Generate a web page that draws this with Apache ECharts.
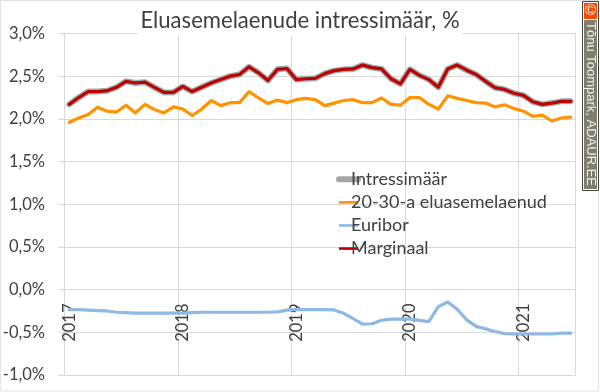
<!DOCTYPE html>
<html><head><meta charset="utf-8">
<style>html,body{margin:0;padding:0;background:#fff}#c{width:600px;height:392px}</style>
<script src="https://cdn.jsdelivr.net/npm/echarts@6/dist/echarts.min.js"></script>
</head><body><div id="c"></div>
<script>
const tickYears = ['2017','2018','2019','2020','2021'];
const pointCount = 54;
const categories = [];
for (let y = 2017, n = 0; n < pointCount; y++) {
  for (let m = 1; m <= 12 && n < pointCount; m++, n++) {
    categories.push(y + '-' + String(m).padStart(2, '0'));
  }
}
const marginaal = [2.17,2.25,2.32,2.32,2.33,2.37,2.44,2.42,2.43,2.37,2.31,2.31,2.38,2.32,2.37,2.42,2.46,2.50,
  2.52,2.61,2.54,2.45,2.58,2.59,2.46,2.47,2.475,2.53,2.565,2.58,2.585,2.63,2.60,2.585,2.47,2.41,
  2.58,2.51,2.46,2.37,2.585,2.63,2.57,2.52,2.44,2.365,2.345,2.30,2.275,2.20,2.17,2.185,2.205,2.205];
const intressimaar = marginaal.slice();
const eluasemelaenud = [1.96,2.01,2.05,2.135,2.09,2.08,2.16,2.07,2.17,2.11,2.07,2.14,2.115,2.04,2.115,2.215,2.155,2.19,
  2.19,2.32,2.245,2.18,2.22,2.19,2.225,2.24,2.225,2.155,2.185,2.215,2.225,2.19,2.19,2.245,2.17,2.16,
  2.25,2.25,2.17,2.115,2.27,2.24,2.215,2.19,2.185,2.14,2.165,2.12,2.09,2.03,2.045,1.975,2.01,2.02];
const euribor = [-0.235,-0.235,-0.24,-0.245,-0.25,-0.265,-0.27,-0.275,-0.275,-0.275,-0.275,-0.275,-0.275,-0.27,-0.265,-0.265,-0.265,-0.265,
  -0.265,-0.265,-0.265,-0.265,-0.26,-0.24,-0.235,-0.235,-0.235,-0.235,-0.238,-0.277,-0.34,-0.405,-0.40,-0.36,-0.345,-0.345,
  -0.345,-0.36,-0.375,-0.20,-0.145,-0.23,-0.355,-0.43,-0.46,-0.49,-0.515,-0.52,-0.52,-0.52,-0.52,-0.52,-0.51,-0.51];
const titleText = 'Eluasemelaenude intressimäär, %';
const creditText = 'Tõnu Toompark, ADAUR.EE';
const font = 'Lato, Carlito, Calibri, sans-serif';
const ink = '#404040', gridC = '#D9D9D9';

const chart = echarts.init(document.getElementById('c'), null, {renderer:'canvas'});
const line = (name, data, color, width, z) => ({
  name, type:'line', data, showSymbol:false, symbol:'none', smooth:false, z,
  lineStyle:{color, width, cap:'round', join:'round'}, itemStyle:{color}, animation:false
});
const isYear = i => i % 12 === 0;
chart.setOption({
  animation:false,
  backgroundColor:'#fff',
  title:{text:titleText, left:'center', top:7, padding:[3,3,4,3], backgroundColor:'#fff',
    textStyle:{fontFamily:font, fontSize:22.1, fontWeight:'normal', color:ink}},
  legend:{left:331, top:165, orient:'vertical', itemWidth:19, itemHeight:2, itemGap:4.6,
    selectedMode:false,
    textStyle:{fontFamily:font, fontSize:18, color:ink, lineHeight:18.5, padding:[0,0,0,-12]},
    data:[
      {name:'Intressimäär', lineStyle:{width:6, cap:'round', color:'#A6A6A6'}},
      {name:'20-30-a eluasemelaenud', lineStyle:{width:2.6, cap:'butt'}},
      {name:'Euribor', lineStyle:{width:2.6, cap:'butt'}},
      {name:'Marginaal', lineStyle:{width:2.6, cap:'butt'}}
    ]},
  grid:{left:64.5, right:24.5, top:33.5, bottom:17, containLabel:false, outerBoundsMode:'none'},
  xAxis:{type:'category', data:categories, boundaryGap:true, offset:-85.5,
    axisLine:{show:false, onZero:false}, axisTick:{show:false},
    axisLabel:{interval:(i)=>isYear(i), rotate:90, margin:14, fontFamily:font, fontSize:16.5, color:ink,
      formatter:(v)=>tickYears.find(y=>v.startsWith(y))},
    splitLine:{show:true, interval:(i)=>isYear(i), lineStyle:{color:gridC, width:1}}},
  yAxis:{type:'value', min:-1, max:3, interval:0.5,
    axisLine:{show:false}, axisTick:{show:true, length:6.5, lineStyle:{color:gridC}},
    axisLabel:{margin:19.5, fontFamily:font, fontSize:16.5, color:ink,
      formatter:(v)=>v.toFixed(1).replace('.',',')+'%'},
    splitLine:{show:true, lineStyle:{color:gridC, width:1}}},
  series:[
    line('Intressimäär', intressimaar, '#9DAEAE', 6, 2),
    line('20-30-a eluasemelaenud', eluasemelaenud, '#FF9300', 3.2, 3),
    line('Euribor', euribor, '#8DB9E4', 3.2, 4),
    line('Marginaal', marginaal, '#C00000', 3.2, 5)
  ],
  graphic:[
    {type:'rect', z:-1, silent:true, shape:{x:0.5,y:0.5,width:598,height:390.5}, style:{fill:'none', stroke:'#E2E2E2', lineWidth:1}},
    {type:'rect', z:20, silent:true, shape:{x:582.5,y:1.5,width:16,height:189}, style:{fill:'#fff', stroke:'#444', lineWidth:1}},
    {type:'rect', z:21, silent:true, shape:{x:584,y:3,width:13,height:16}, style:{fill:'#FF4A00'}},
    {type:'rect', z:21, silent:true, shape:{x:584,y:20,width:13,height:169}, style:{fill:'#7F7F6B'}},
    {type:'text', z:22, silent:true, style:{x:590.5,y:11,text:'©',fill:'#fff',font:'15px "Liberation Sans"',align:'center',verticalAlign:'middle'}},
    {type:'text', z:22, silent:true, rotation:-Math.PI/2, x:590.5, y:22,
      style:{x:0,y:0,text:creditText,fill:'#F2F2F2',font:'13px "Liberation Sans"',align:'left',verticalAlign:'middle'}}
  ]
});
</script></body></html>
